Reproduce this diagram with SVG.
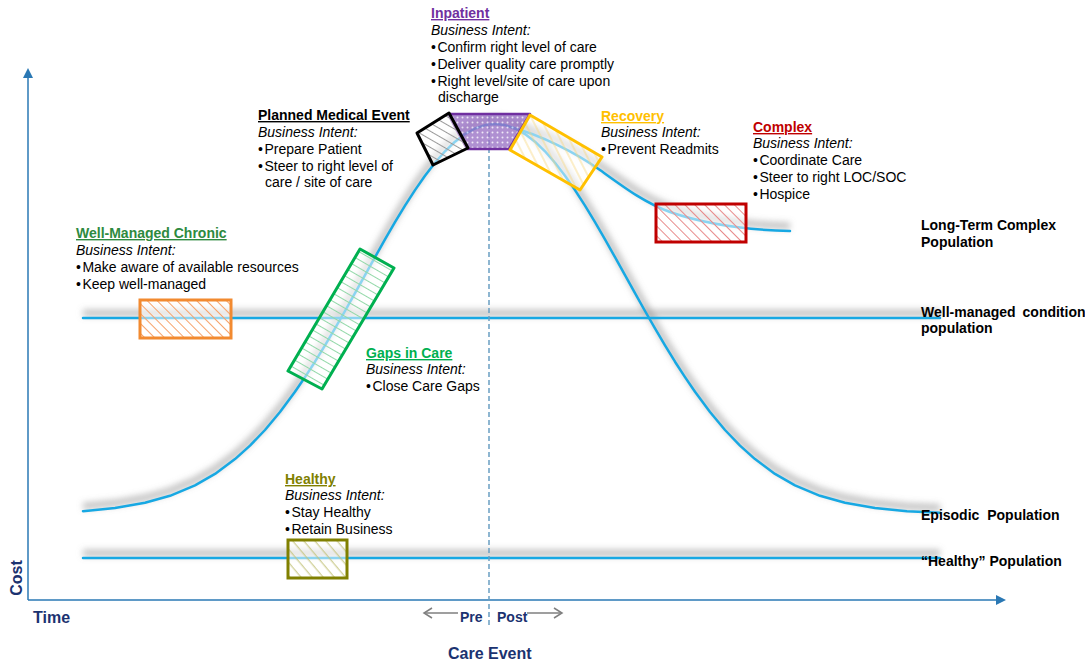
<svg xmlns="http://www.w3.org/2000/svg" width="1085" height="664" viewBox="0 0 1085 664">
<defs>
<style>
text{font-family:"Liberation Sans",Arial,sans-serif;font-size:14px;fill:#000}
.h{font-weight:bold;text-decoration:underline}
.i{font-style:italic}
.b{font-weight:bold}
.ax{font-weight:bold;font-size:16px;fill:#1b3270}
.pp{font-weight:bold;font-size:14px;fill:#1b3270}
.curve{fill:none;stroke:#17a8e3;stroke-width:2.5;stroke-linejoin:round;stroke-linecap:round}
.shadow{fill:none;stroke:#8a8a8a;stroke-width:7;stroke-opacity:0.5;stroke-linejoin:round}
.veil{fill:#fff;fill-opacity:0.5}
</style>
<filter id="blur" filterUnits="userSpaceOnUse" x="0" y="0" width="1085" height="664"><feGaussianBlur stdDeviation="3"/></filter>
<pattern id="hOr" patternUnits="userSpaceOnUse" width="7" height="7" patternTransform="rotate(-45)"><line x1="3.5" y1="0" x2="3.5" y2="7" stroke="#f6a26a" stroke-width="1"/></pattern>
<pattern id="hRd" patternUnits="userSpaceOnUse" width="7" height="7" patternTransform="rotate(-45)"><line x1="3.5" y1="0" x2="3.5" y2="7" stroke="#e88a8a" stroke-width="1"/></pattern>
<pattern id="hOl" patternUnits="userSpaceOnUse" width="8.5" height="8.5" patternTransform="rotate(-40)"><line x1="4" y1="0" x2="4" y2="8.5" stroke="#c2c27a" stroke-width="1"/></pattern>
<pattern id="hGr" patternUnits="userSpaceOnUse" width="7" height="7" patternTransform="rotate(-60)"><line x1="3.5" y1="0" x2="3.5" y2="7" stroke="#92d8a8" stroke-width="1"/></pattern>
<pattern id="hBk" patternUnits="userSpaceOnUse" width="7" height="7" patternTransform="rotate(-60)"><line x1="3.5" y1="0" x2="3.5" y2="7" stroke="#9a9a9a" stroke-width="1"/></pattern>
<pattern id="hYl" patternUnits="userSpaceOnUse" width="8" height="8" patternTransform="rotate(-27)"><line x1="4" y1="0" x2="4" y2="8" stroke="#f7d679" stroke-width="0.8"/></pattern>
<pattern id="dots" patternUnits="userSpaceOnUse" width="5" height="5"><rect width="5" height="5" fill="#9b74c6"/><circle cx="2.5" cy="2.5" r="1" fill="#fff" fill-opacity="0.8"/></pattern>
<marker id="ah" viewBox="0 0 10 10" refX="8" refY="5" markerWidth="10" markerHeight="10" markerUnits="userSpaceOnUse" orient="auto"><path d="M0,0 L10,5 L0,10 Z" fill="#2a78b4"/></marker>
</defs>
<rect width="1085" height="664" fill="#fff"/>

<g id="axes">
<line x1="28" y1="600" x2="28" y2="70" stroke="#2a78b4" stroke-width="1.5" marker-end="url(#ah)"/>
<line x1="28" y1="600" x2="1004" y2="600" stroke="#2a78b4" stroke-width="1.5" marker-end="url(#ah)"/>
</g>

<g id="connectors">
<g filter="url(#blur)" transform="translate(0,-5)">
<line class="shadow" x1="83" y1="558" x2="940" y2="558"/>
<line class="shadow" x1="83" y1="318" x2="940" y2="318"/>
<path class="shadow" d="M83,511.2 L115,508.1 145,502.8 170,495.8 195,485.3 215,473.9 235,459.1 250,445.6 265,430 280,412 295,391.8 305,377.1 315,361.7 325,345.4 335,328.4 345,311 355,293.1 365,275.1 375,257.2 385,239.4 395,222.2 405,205.7 415,190.1 425,175.7 435,162.7 445,151.3 455,141.7 465,134.1 475,128.5 485,125.1 495,124 505,125.1 515,128.5 525,134.1 535,141.7 545,151.3 555,162.7 565,175.7 575,190.1 585,205.7 595,222.2 605,239.4 615,257.2 625,275.1 635,293.1 645,311 655,328.4 665,345.4 675,361.7 685,377.1 695,391.8 710,412 725,430 740,445.6 755,459.1 775,473.9 795,485.3 820,495.8 845,502.8 875,508.1 907,511.2 940,512.8"/>
<path class="shadow" d="M512,127.5 C540,135 575,152 600,170 C625,188 645,203 670,212 C705,224 745,230 790,231"/>
</g>
<line class="curve" x1="83" y1="558" x2="940" y2="558"/>
<line class="curve" x1="83" y1="318" x2="940" y2="318"/>
<path class="curve" d="M83,511.2 L115,508.1 145,502.8 170,495.8 195,485.3 215,473.9 235,459.1 250,445.6 265,430 280,412 295,391.8 305,377.1 315,361.7 325,345.4 335,328.4 345,311 355,293.1 365,275.1 375,257.2 385,239.4 395,222.2 405,205.7 415,190.1 425,175.7 435,162.7 445,151.3 455,141.7 465,134.1 475,128.5 485,125.1 495,124 505,125.1 515,128.5 525,134.1 535,141.7 545,151.3 555,162.7 565,175.7 575,190.1 585,205.7 595,222.2 605,239.4 615,257.2 625,275.1 635,293.1 645,311 655,328.4 665,345.4 675,361.7 685,377.1 695,391.8 710,412 725,430 740,445.6 755,459.1 775,473.9 795,485.3 820,495.8 845,502.8 875,508.1 907,511.2 940,512.8"/>
<path class="curve" d="M512,127.5 C540,135 575,152 600,170 C625,188 645,203 670,212 C705,224 745,230 790,231"/>
<line x1="489" y1="116" x2="489" y2="627" stroke="#6a9fc2" stroke-width="1.5" stroke-dasharray="5,3"/>
<g stroke="#7f7f7f" stroke-width="1.5" fill="none">
<line x1="425" y1="613" x2="458" y2="613"/>
<path d="M432,608 L424,613 L432,618"/>
<line x1="527" y1="613" x2="561" y2="613"/>
<path d="M554,608 L562,613 L554,618"/>
</g>
</g>

<g id="node-inpatient">
<polygon points="448,114 530,114 509,149 467,149" fill="url(#dots)" fill-opacity="0.8" stroke="#7030a0" stroke-width="2.5" stroke-linejoin="round"/>
<text x="431" y="18" class="h" style="fill:#7030a0">Inpatient</text>
<text x="431" y="35" class="i">Business Intent:</text>
<text x="431" y="52">•<tspan dx="1.5">Confirm right level of care</tspan></text>
<text x="431" y="69">•<tspan dx="1.5">Deliver quality care promptly</tspan></text>
<text x="431" y="86">•<tspan dx="1.5">Right level/site of care upon</tspan></text>
<text x="438" y="102">discharge</text>
</g>

<g id="node-planned">
<polygon class="veil" points="417,133 449,113 468,148 433,165"/>
<polygon points="417,133 449,113 468,148 433,165" fill="url(#hBk)" stroke="#000" stroke-width="3" stroke-linejoin="round"/>
<text x="258" y="120" class="h">Planned Medical Event</text>
<text x="258" y="137" class="i">Business Intent:</text>
<text x="258" y="154">•<tspan dx="1.5">Prepare Patient</tspan></text>
<text x="258" y="171">•<tspan dx="1.5">Steer to right level of</tspan></text>
<text x="265" y="187">care / site of care</text>
</g>

<g id="node-recovery">
<polygon class="veil" points="530,115 602,157 580,190 510,150"/>
<polygon points="530,115 602,157 580,190 510,150" fill="url(#hYl)" stroke="#ffc000" stroke-width="3" stroke-linejoin="round"/>
<text x="601" y="121" class="h" style="fill:#ffc000">Recovery</text>
<text x="601" y="137" class="i">Business Intent:</text>
<text x="601" y="154">•<tspan dx="1.5">Prevent Readmits</tspan></text>
</g>

<g id="node-complex">
<rect class="veil" x="656" y="204" width="90" height="38"/>
<rect x="656" y="204" width="90" height="38" fill="url(#hRd)" stroke="#c00000" stroke-width="3"/>
<text x="753" y="132" class="h" style="fill:#c00000">Complex</text>
<text x="753" y="148" class="i">Business Intent:</text>
<text x="753" y="165">•<tspan dx="1.5">Coordinate Care</tspan></text>
<text x="753" y="182">•<tspan dx="1.5">Steer to right LOC/SOC</tspan></text>
<text x="753" y="199">•<tspan dx="1.5">Hospice</tspan></text>
</g>

<g id="node-chronic">
<rect class="veil" x="140" y="300" width="91" height="38"/>
<rect x="140" y="300" width="91" height="38" fill="url(#hOr)" stroke="#f28a30" stroke-width="3"/>
<text x="76" y="238" class="h" style="fill:#2e8a40">Well-Managed Chronic</text>
<text x="76" y="255" class="i">Business Intent:</text>
<text x="76" y="272">•<tspan dx="1.5">Make aware of available resources</tspan></text>
<text x="76" y="289">•<tspan dx="1.5">Keep well-managed</tspan></text>
</g>

<g id="node-gaps">
<polygon class="veil" points="360,249 394,268 322,389 288,371"/>
<polygon points="360,249 394,268 322,389 288,371" fill="url(#hGr)" stroke="#00b050" stroke-width="3" stroke-linejoin="round"/>
<text x="366" y="358" class="h" style="fill:#00b050">Gaps in Care</text>
<text x="366" y="374" class="i">Business Intent:</text>
<text x="366" y="391">•<tspan dx="1.5">Close Care Gaps</tspan></text>
</g>

<g id="node-healthy">
<rect class="veil" x="288" y="540" width="59" height="38"/>
<rect x="288" y="540" width="59" height="38" fill="url(#hOl)" stroke="#808000" stroke-width="3"/>
<text x="285" y="484" class="h" style="fill:#808000">Healthy</text>
<text x="285" y="500" class="i">Business Intent:</text>
<text x="285" y="517">•<tspan dx="1.5">Stay Healthy</tspan></text>
<text x="285" y="534">•<tspan dx="1.5">Retain Business</tspan></text>
</g>

<g id="population-labels">
<text x="921" y="230" class="b">Long-Term Complex</text>
<text x="921" y="247" class="b">Population</text>
<text x="921" y="317" class="b" style="word-spacing:3px">Well-managed condition</text>
<text x="921" y="333" class="b">population</text>
<text x="921" y="520" class="b" style="word-spacing:4px">Episodic Population</text>
<text x="921" y="566" class="b">“Healthy” Population</text>
</g>

<g id="axis-labels">
<text class="ax" transform="translate(22,578) rotate(-90)" text-anchor="middle">Cost</text>
<text class="ax" x="33" y="623">Time</text>
<text class="pp" x="460" y="622">Pre</text>
<text class="pp" x="497" y="622">Post</text>
<text class="ax" x="448" y="659">Care Event</text>
</g>
</svg>
